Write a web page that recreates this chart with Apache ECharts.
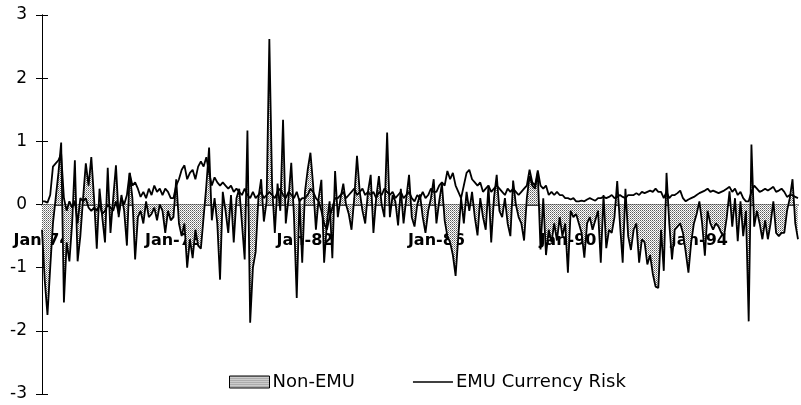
<!DOCTYPE html>
<html>
<head>
<meta charset="utf-8">
<script src="https://cdn.jsdelivr.net/npm/echarts@6/dist/echarts.min.js"></script>
<style>
  html, body { margin: 0; padding: 0; background: #fff; }
  #chart { width: 801px; height: 405px; }
</style>
</head>
<body>
<div id="chart"></div>
<script>
// Monthly observations, Jan-74 through Jan-97
const startYear = 1974;
const monthCount = 277;

// Non-EMU currency risk (monthly)
const nonEmu = [
  // 1974
  -0.4, -1.2, -1.75, -1.0, -0.3, 0.1, 0.5, 0.98, -1.55, -0.6, -0.9, -0.3,
  // 1975
  0.7, -0.9, -0.5, 0.1, 0.65, 0.3, 0.75, 0.1, -0.7, 0.25, -0.2, -0.6,
  // 1976
  0.58, -0.45, 0.1, 0.62, -0.2, 0.15, -0.1, -0.65, 0.5, 0.1, -0.87, -0.2,
  // 1977
  -0.1, -0.3, 0.05, -0.2, -0.15, -0.05, -0.25, 0.0, -0.1, -0.45, -0.1, -0.25,
  // 1978
  -0.2, 0.4, -0.3, -0.5, -0.3, -1.0, -0.55, -0.85, -0.4, -0.65, -0.7, -0.2,
  // 1979
  0.3, 0.9, -0.25, 0.1, -0.3, -1.19, 0.2, -0.1, -0.45, 0.15, -0.6, 0.1,
  // 1980
  0.25, -0.3, -0.87, 1.17, -1.87, -1.0, -0.75, 0.1, 0.4, -0.27, 0.05, 2.62,
  // 1981
  0.3, -0.45, 0.33, -0.1, 1.34, -0.3, 0.1, 0.66, -0.2, -1.48, 0.1, -0.92,
  // 1982
  0.2, 0.55, 0.82, 0.3, -0.4, 0.1, 0.39, -0.92, -0.3, 0.05, -0.85, 0.53,
  // 1983
  -0.2, 0.1, 0.33, 0.0, -0.15, -0.4, 0.1, 0.77, 0.2, -0.1, -0.3, 0.2,
  // 1984
  0.47, -0.45, 0.1, 0.45, 0.0, -0.2, 1.14, -0.2, 0.15, 0.05, -0.33, 0.25,
  // 1985
  -0.3, 0.1, 0.47, -0.2, -0.35, 0.0, 0.16, -0.2, -0.45, -0.1, 0.1, 0.4,
  // 1986
  -0.3, 0.05, 0.33, -0.25, -0.5, -0.6, -0.8, -1.13, -0.5, 0.1, -0.3, 0.2,
  // 1987
  -0.1, 0.2, -0.2, -0.49, 0.1, -0.2, -0.4, 0.3, -0.6, 0.1, 0.47, -0.1,
  // 1988
  -0.2, 0.1, -0.3, -0.5, 0.38, 0.0, -0.2, -0.3, -0.57, 0.1, 0.45, 0.3,
  // 1989
  0.25, 0.5, -0.71, 0.1, -0.8, -0.4, -0.6, -0.3, -0.57, -0.2, -0.5, -0.3,
  // 1990
  -1.08, -0.1, -0.2, -0.15, -0.3, -0.45, -0.84, -0.3, -0.2, -0.4, -0.25, -0.1,
  // 1991
  -0.92, 0.15, -0.69, -0.4, -0.45, -0.2, 0.37, -0.3, -0.92, 0.25, -0.5, -0.72,
  // 1992
  -0.4, -0.3, -0.92, -0.55, -0.6, -0.95, -0.8, -1.1, -1.3, -1.32, -0.4, -1.05,
  // 1993
  0.5, -0.3, -0.87, -0.4, -0.35, -0.3, -0.45, -0.75, -1.08, -0.6, -0.3, -0.15,
  // 1994
  0.05, -0.3, -0.81, -0.1, -0.3, -0.4, -0.3, -0.35, -0.45, -0.5, -0.2, 0.21,
  // 1995
  -0.35, 0.1, -0.58, 0.05, -0.5, -0.1, -1.85, 0.95, -0.35, -0.1, -0.3, -0.55,
  // 1996
  -0.25, -0.55, -0.3, 0.05, -0.45, -0.5, -0.45, -0.45, -0.1, 0.1, 0.4, -0.3,
  // 1997
  -0.55
];

// EMU currency risk (monthly)
const emuRisk = [
  // 1974
  0.05, 0.05, 0.03, 0.15, 0.6, 0.65, 0.7, 0.8, 0.1, -0.1, 0.05, -0.05,
  // 1975
  0.05, -0.3, 0.1, 0.05, 0.1, -0.05, -0.1, -0.05, -0.1, 0.0, -0.15, -0.1,
  // 1976
  0.0, -0.05, -0.1, 0.05, -0.15, 0.1, 0.0, 0.15, 0.5, 0.3, 0.35, 0.25,
  // 1977
  0.12, 0.2, 0.1, 0.25, 0.15, 0.3, 0.2, 0.25, 0.15, 0.25, 0.2, 0.1,
  // 1978
  0.1, 0.3, 0.4, 0.55, 0.62, 0.4, 0.5, 0.55, 0.4, 0.6, 0.68, 0.6,
  // 1979
  0.75, 0.5, 0.3, 0.43, 0.35, 0.3, 0.35, 0.3, 0.25, 0.3, 0.2, 0.25,
  // 1980
  0.2, 0.15, 0.25, 0.15, 0.1, 0.2, 0.1, 0.15, 0.2, 0.1, 0.15, 0.2,
  // 1981
  0.15, 0.1, 0.2, 0.25, 0.15, 0.1, 0.2, 0.15, 0.1, 0.2, 0.05, 0.1,
  // 1982
  0.1, 0.15, 0.25, 0.2, 0.1, 0.05, -0.1, -0.3, -0.4, -0.2, -0.05, 0.1,
  // 1983
  0.1, 0.15, 0.2, 0.1, 0.15, 0.2, 0.25, 0.15, 0.2, 0.25, 0.15, 0.2,
  // 1984
  0.15, 0.2, 0.1, 0.2, 0.15, 0.25, 0.2, 0.15, 0.2, 0.1, 0.15, 0.2,
  // 1985
  0.1, 0.15, 0.2, 0.1, 0.05, 0.15, 0.1, 0.2, 0.1, 0.15, 0.25, 0.2,
  // 1986
  0.2, 0.3, 0.35, 0.3, 0.53, 0.4, 0.5, 0.3, 0.2, 0.1, 0.3, 0.5,
  // 1987
  0.55, 0.4, 0.35, 0.3, 0.35, 0.2, 0.25, 0.3, 0.2, 0.25, 0.3, 0.25,
  // 1988
  0.2, 0.15, 0.25, 0.2, 0.25, 0.2, 0.15, 0.2, 0.25, 0.3, 0.55, 0.35,
  // 1989
  0.3, 0.54, 0.3, 0.25, 0.3, 0.15, 0.2, 0.15, 0.2, 0.15, 0.15, 0.1,
  // 1990
  0.1, 0.08, 0.1, 0.05, 0.05, 0.06, 0.05, 0.08, 0.1, 0.08, 0.06, 0.1,
  // 1991
  0.1, 0.12, 0.1, 0.12, 0.15, 0.1, 0.12, 0.15, 0.12, 0.1, 0.15, 0.15,
  // 1992
  0.15, 0.18, 0.15, 0.2, 0.18, 0.2, 0.22, 0.2, 0.25, 0.2, 0.2, 0.1,
  // 1993
  0.2, 0.1, 0.15, 0.15, 0.18, 0.22, 0.1, 0.05, 0.08, 0.1, 0.12, 0.15,
  // 1994
  0.18, 0.2, 0.22, 0.25, 0.2, 0.22, 0.2, 0.18, 0.2, 0.22, 0.25, 0.28,
  // 1995
  0.2, 0.25, 0.15, 0.2, 0.1, 0.05, 0.05, 0.2, 0.3, 0.25, 0.2, 0.22,
  // 1996
  0.25, 0.22, 0.25, 0.28, 0.2, 0.22, 0.25, 0.2, 0.12, 0.15, 0.15, 0.12,
  // 1997
  0.1
];

// Value axis ticks
const yTicks = [-3, -2, -1, 0, 1, 2, 3];

// Month labels such as "Jan-74"
const monthNames = ['Jan','Feb','Mar','Apr','May','Jun','Jul','Aug','Sep','Oct','Nov','Dec'];
const months = [];
for (let i = 0; i < monthCount; i++) {
  const y = startYear + Math.floor(i / 12);
  months.push(monthNames[i % 12] + '-' + String(y).slice(2));
}

// Stippled grey fill for the Non-EMU area
function makeStipple() {
  const c = document.createElement('canvas');
  c.width = 2; c.height = 2;
  const ctx = c.getContext('2d');
  ctx.fillStyle = '#ffffff';
  ctx.fillRect(0, 0, 2, 2);
  ctx.fillStyle = '#5a5a5a';
  ctx.fillRect(0, 0, 1, 1);
  ctx.fillStyle = '#9a9a9a';
  ctx.fillRect(1, 1, 1, 1);
  return { image: c, repeat: 'repeat' };
}
const stipple = makeStipple();

// Plot area geometry; the category axis sits on the zero line
const gridTop = 15;
const gridBottom = 11;
const chartHeight = 405;
const plotHeight = chartHeight - gridTop - gridBottom;
const zeroFromBottom = plotHeight * (0 - yTicks[0]) / (yTicks[yTicks.length - 1] - yTicks[0]);

const chart = echarts.init(document.getElementById('chart'), null, { renderer: 'canvas' });

const yAxisBase = {
  type: 'value',
  min: yTicks[0],
  max: yTicks[yTicks.length - 1],
  interval: 1,
  splitLine: { show: false },
  axisLine: { show: true, onZero: false, lineStyle: { color: '#000', width: 1 } }
};

chart.setOption({
  animation: false,
  backgroundColor: '#ffffff',
  grid: { left: 42, right: 3, top: gridTop, bottom: gridBottom, containLabel: false, outerBoundsMode: 'none' },
  legend: {
    left: 224,
    top: 368,
    itemWidth: 40,
    itemHeight: 12,
    itemGap: 58,
    textStyle: { fontFamily: 'DejaVu Sans', fontSize: 18, color: '#000', padding: [0, 0, 0, -2] },
    data: [
      { name: 'Non-EMU', icon: 'rect', itemStyle: { color: stipple, borderColor: '#000', borderWidth: 1 } },
      { name: 'EMU Currency Risk', icon: 'path://M0,0H40V1.6H0Z', itemStyle: { color: '#000', borderWidth: 0 } }
    ]
  },
  xAxis: {
    type: 'category',
    data: months,
    boundaryGap: false,
    position: 'bottom',
    offset: -zeroFromBottom,
    axisLine: { show: true, onZero: false, lineStyle: { color: '#000', width: 1.5 } },
    axisTick: { show: false },
    splitLine: { show: false },
    axisLabel: {
      interval: function (idx) { return idx % 48 === 0; },
      margin: 28,
      fontFamily: 'DejaVu Sans',
      fontWeight: 'bold',
      fontSize: 16,
      color: '#000'
    }
  },
  yAxis: [
    Object.assign({}, yAxisBase, {
      axisTick: { show: true, inside: false, length: 6, lineStyle: { color: '#000' } },
      axisLabel: { margin: 15, fontFamily: 'DejaVu Sans', fontSize: 17, color: '#000' }
    }),
    Object.assign({}, yAxisBase, {
      position: 'left',
      axisTick: { show: true, inside: true, length: 6, lineStyle: { color: '#000' } },
      axisLabel: { show: false }
    })
  ],
  series: [
    {
      name: 'Non-EMU',
      type: 'line',
      data: nonEmu,
      symbol: 'none',
      showSymbol: false,
      itemStyle: { color: '#000' },
      lineStyle: { color: '#000', width: 1.8 },
      areaStyle: { color: stipple, opacity: 1, origin: 0 },
      z: 3
    },
    {
      name: 'EMU Currency Risk',
      type: 'line',
      data: emuRisk,
      symbol: 'none',
      showSymbol: false,
      itemStyle: { color: '#000' },
      lineStyle: { color: '#000', width: 1.8 },
      z: 4
    }
  ]
});
</script>
</body>
</html>
